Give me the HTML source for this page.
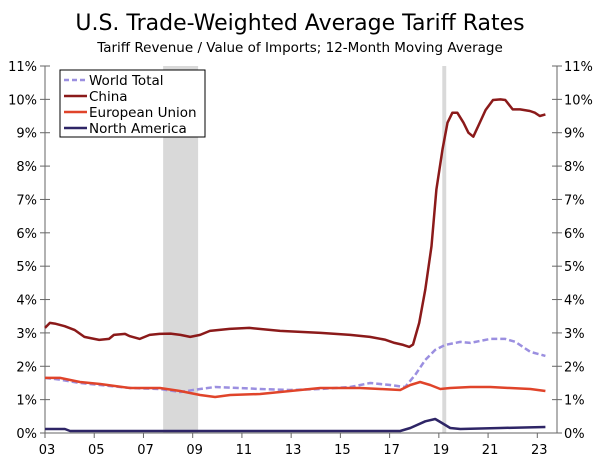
<!DOCTYPE html>
<html><head><meta charset="utf-8"><style>
body{margin:0;background:#fff;width:600px;height:460px;overflow:hidden}
svg text{font-family:"DejaVu Sans","Liberation Sans",sans-serif;fill:#000}
</style></head><body>
<svg id="chart" width="600" height="460" xmlns="http://www.w3.org/2000/svg">
<text x="300" y="30" font-size="22" text-anchor="middle">U.S. Trade-Weighted Average Tariff Rates</text>
<text x="300" y="52" font-size="13.5" text-anchor="middle">Tariff Revenue / Value of Imports; 12-Month Moving Average</text>
<g id="shade"></g><g id="axes"></g><g id="lines"></g>
<g>
<rect x="60" y="70" width="145" height="67" fill="#fff" stroke="#000" stroke-width="1"/>
<line x1="64" y1="80" x2="87" y2="80" stroke="#9b8fe0" stroke-width="2.5" stroke-dasharray="5,3"/>
<text x="89" y="85" font-size="13.5">World Total</text>
<line x1="64" y1="96" x2="87" y2="96" stroke="#8b1a1a" stroke-width="2.5"/>
<text x="89" y="101" font-size="13.5">China</text>
<line x1="64" y1="112" x2="87" y2="112" stroke="#e0442a" stroke-width="2.5"/>
<text x="89" y="117" font-size="13.5">European Union</text>
<line x1="64" y1="128" x2="87" y2="128" stroke="#2e2566" stroke-width="2.5"/>
<text x="89" y="133" font-size="13.5">North America</text>
</g>
</svg>
<script>
const chinaYears=[2003.0,2003.2,2003.4,2003.8,2004.2,2004.6,2005.0,2005.2,2005.6,2005.8,2006.25,2006.45,2006.85,2007.25,2007.65,2008.1,2008.5,2008.9,2009.3,2009.7,2010.5,2011.3,2012.55,2014.2,2015.4,2016.2,2016.8,2017.2,2017.55,2017.8,2017.95,2018.2,2018.45,2018.7,2018.9,2019.15,2019.35,2019.55,2019.75,2020.0,2020.2,2020.4,2020.6,2020.9,2021.2,2021.5,2021.7,2022.0,2022.3,2022.7,2022.9,2023.1,2023.33];
const chinaVals=[3.15,3.3,3.28,3.2,3.09,2.88,2.82,2.79,2.82,2.94,2.97,2.9,2.82,2.94,2.97,2.98,2.94,2.88,2.94,3.06,3.12,3.15,3.06,3.0,2.94,2.88,2.8,2.7,2.64,2.58,2.65,3.3,4.3,5.6,7.3,8.5,9.3,9.6,9.6,9.3,9.0,8.88,9.2,9.68,9.98,10.0,9.98,9.7,9.7,9.65,9.6,9.5,9.55];
const euYears=[2003.0,2003.61,2004.42,2005.24,2006.46,2007.67,2008.49,2009.30,2009.91,2010.52,2011.74,2012.96,2014.18,2015.80,2016.62,2017.43,2017.84,2018.24,2018.65,2019.06,2019.46,2020.28,2021.09,2021.90,2022.72,2023.33];
const euVals=[1.65,1.65,1.53,1.47,1.35,1.35,1.26,1.14,1.08,1.14,1.17,1.26,1.35,1.35,1.32,1.29,1.44,1.53,1.44,1.32,1.35,1.38,1.38,1.35,1.32,1.26];
const worldYears=[2003.0,2003.61,2004.42,2005.24,2006.46,2007.67,2008.49,2009.30,2009.91,2010.93,2011.74,2012.96,2014.18,2015.40,2016.21,2017.02,2017.63,2018.04,2018.45,2018.85,2019.26,2019.87,2020.28,2021.09,2021.70,2022.11,2022.72,2023.33];
const worldVals=[1.65,1.6,1.5,1.44,1.35,1.32,1.23,1.32,1.38,1.35,1.32,1.29,1.32,1.38,1.5,1.44,1.38,1.74,2.19,2.49,2.64,2.73,2.7,2.82,2.82,2.73,2.43,2.31];
const naYears=[2003.0,2003.81,2004.02,2010.0,2017.43,2017.84,2018.45,2018.85,2019.06,2019.46,2019.87,2021.5,2023.33];
const naVals=[0.12,0.12,0.06,0.06,0.06,0.15,0.35,0.42,0.33,0.15,0.12,0.15,0.18];
const tickLabels=["03","05","07","09","11","13","15","17","19","21","23"];
const tickYears=[2003,2005,2007,2009,2011,2013,2015,2017,2019,2021,2023];
const yTicks=[0,1,2,3,4,5,6,7,8,9,10,11];
const recessions=[[2007.8,2009.22],[2019.14,2019.3]];
const L=45,R=557,T=66,B=433,X0=2003,X1=2023.8;
const xs=v=>L+(v-X0)/(X1-X0)*(R-L);
const ys=v=>B-v/11*(B-T);
const NS="http://www.w3.org/2000/svg";
function mk(tag,attrs,parent){const e=document.createElementNS(NS,tag);for(const k in attrs)e.setAttribute(k,attrs[k]);parent.appendChild(e);return e;}
const shade=document.getElementById('shade'),axes=document.getElementById('axes'),lines=document.getElementById('lines');
recessions.forEach(r=>{const e=mk('rect',{x:xs(r[0]),y:T,width:xs(r[1])-xs(r[0]),height:B-T,fill:'#d9d9d9'},shade);

});
let a=mk('line',{x1:L,y1:T,x2:L,y2:B,stroke:'#666'},axes);

a=mk('line',{x1:R,y1:T,x2:R,y2:B,stroke:'#666'},axes);

a=mk('line',{x1:L,y1:B,x2:R,y2:B,stroke:'#666'},axes);

yTicks.forEach(v=>{const y=ys(v);
mk('line',{x1:L-5,y1:y,x2:L+5,y2:y,stroke:'#666'},axes);
mk('line',{x1:R-5,y1:y,x2:R+5,y2:y,stroke:'#666'},axes);
let t=mk('text',{x:L-8,y:y+5,'font-size':13,'text-anchor':'end'},axes);t.textContent=v+'%';

t=mk('text',{x:R+7,y:y+5,'font-size':13},axes);t.textContent=v+'%';
});
tickYears.forEach((yr,i)=>{const x=xs(yr);
mk('line',{x1:x,y1:B,x2:x,y2:B+5,stroke:'#666'},axes);
const t=mk('text',{x:x+2,y:B+21,'font-size':13,'text-anchor':'middle'},axes);t.textContent=tickLabels[i];
});
function series(xsA,vs,color,name,dash){const d=xsA.map((yr,i)=>(i?'L':'M')+xs(yr).toFixed(1)+','+ys(vs[i]).toFixed(1)).join('');
const p=mk('path',{d:d,fill:'none',stroke:color,'stroke-width':2.5,'stroke-linejoin':'round'},lines);
if(dash)p.setAttribute('stroke-dasharray','6,3');

}
series(worldYears,worldVals,'#9b8fe0','world-total-line',true);
series(euYears,euVals,'#e0442a','european-union-line');
series(naYears,naVals,'#2e2566','north-america-line');
series(chinaYears,chinaVals,'#8b1a1a','china-line');
</script>
</body></html>
